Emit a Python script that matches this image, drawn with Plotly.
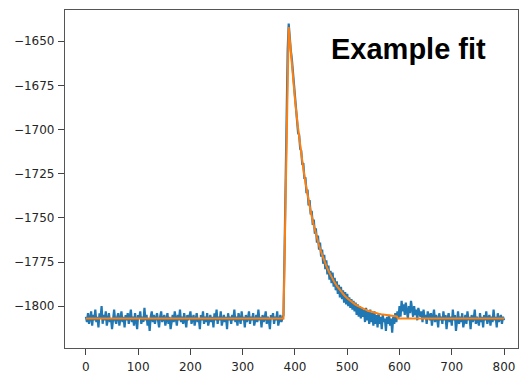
import numpy as np
import plotly.graph_objects as go

# ---- measured signal (sampled every 2 units, x = 0..800) ----
signal_y = [
    # baseline 0..376
    -1806,-1809,-1804,-1810,-1807,-1803,-1811,-1805,-1808,-1802,-1809,-1806,-1812,-1804,-1807,-1800,-1810,-1805,-1808,-1803,
    -1811,-1806,-1804,-1809,-1807,-1813,-1805,-1802,-1808,-1810,-1806,-1804,-1811,-1807,-1803,-1809,-1806,-1812,-1805,-1808,
    -1804,-1810,-1807,-1802,-1809,-1806,-1811,-1804,-1808,-1813,-1805,-1807,-1803,-1810,-1806,-1809,-1801,-1808,-1805,-1811,
    -1807,-1814,-1806,-1803,-1809,-1805,-1810,-1807,-1804,-1808,-1812,-1806,-1803,-1809,-1807,-1805,-1811,-1808,-1804,-1810,
    -1806,-1813,-1808,-1805,-1809,-1803,-1807,-1811,-1805,-1808,-1802,-1809,-1806,-1810,-1804,-1807,-1812,-1805,-1808,-1806,
    -1803,-1810,-1807,-1805,-1811,-1806,-1804,-1809,-1807,-1813,-1805,-1808,-1803,-1810,-1806,-1809,-1804,-1811,-1807,-1805,
    -1809,-1806,-1812,-1804,-1808,-1802,-1810,-1806,-1808,-1803,-1811,-1807,-1805,-1809,-1806,-1813,-1804,-1808,-1806,-1810,
    -1805,-1808,-1802,-1809,-1806,-1811,-1804,-1807,-1810,-1803,-1808,-1806,-1812,-1805,-1809,-1807,-1803,-1810,-1806,-1808,
    -1804,-1811,-1807,-1805,-1809,-1802,-1808,-1806,-1812,-1805,-1809,-1807,-1803,-1810,-1806,-1808,-1813,-1805,-1807,-1804,
    -1810,-1806,-1808,-1803,-1811,-1807,-1805,-1809,-1806,
    # rise and peak 378..398
    -1805,-1770,-1730,-1690,-1655,-1640,-1650,-1655,-1660,-1667,-1672,
    # decay 400..598
    -1681,-1690,-1692,-1702,-1703,-1711,-1712,-1720,-1719,-1728,-1727,-1736,-1734,-1743,-1740,-1748,-1746,-1754,-1751,-1759,
    -1756,-1764,-1760,-1768,-1764,-1772,-1768,-1776,-1771,-1779,-1774,-1782,-1777,-1785,-1780,-1787,-1781,-1789,-1784,-1791,
    -1786,-1793,-1788,-1795,-1789,-1796,-1791,-1798,-1792,-1799,-1793,-1800,-1795,-1801,-1796,-1802,-1797,-1803,-1798,-1805,
    -1799,-1806,-1800,-1807,-1801,-1806,-1802,-1809,-1801,-1808,-1803,-1810,-1802,-1809,-1804,-1811,-1803,-1810,-1805,-1812,
    -1804,-1810,-1806,-1813,-1805,-1809,-1807,-1814,-1806,-1810,-1805,-1811,-1807,-1815,-1806,-1810,-1804,-1809,-1803,-1807,
    # tail 600..800
    -1800,-1806,-1797,-1803,-1799,-1805,-1798,-1802,-1807,-1800,-1804,-1797,-1803,-1806,-1800,-1805,-1802,-1808,-1801,-1804,
    -1806,-1803,-1809,-1802,-1807,-1805,-1810,-1803,-1806,-1808,-1804,-1811,-1806,-1802,-1809,-1805,-1807,-1812,-1804,-1808,
    -1806,-1810,-1803,-1808,-1805,-1813,-1807,-1804,-1809,-1806,-1811,-1802,-1808,-1805,-1814,-1807,-1803,-1810,-1806,-1809,
    -1804,-1812,-1807,-1805,-1810,-1803,-1808,-1806,-1813,-1805,-1809,-1807,-1802,-1810,-1806,-1808,-1811,-1804,-1809,-1806,
    -1812,-1805,-1808,-1803,-1810,-1807,-1805,-1811,-1806,-1809,-1802,-1808,-1806,-1812,-1804,-1809,-1807,-1805,-1810,-1806,
    -1808,
]
signal_x = list(range(0, 801, 2))

# ---- fitted curve ----
fit_x = [0, 378, 388, 390, 395, 400, 405, 410, 415, 420, 425, 430, 435, 440, 445, 450, 455, 460, 465,
         470, 475, 480, 485, 490, 495, 500, 505, 510, 515, 520, 525, 530, 535, 540, 545, 550, 555,
         560, 565, 570, 575, 580, 585, 590, 595, 597, 800]
fit_y = [-1807, -1807, -1642, -1649.7, -1667.3, -1683.0, -1696.9, -1709.3, -1720.2, -1730.0, -1738.6,
         -1746.3, -1753.1, -1759.2, -1764.5, -1769.3, -1773.5, -1777.3, -1780.6, -1783.6, -1786.2,
         -1788.5, -1790.6, -1792.5, -1794.1, -1795.5, -1796.8, -1798.0, -1799.0, -1799.9, -1800.7,
         -1801.4, -1802.0, -1802.6, -1803.1, -1803.5, -1803.9, -1804.3, -1804.6, -1804.8, -1805.1,
         -1805.3, -1805.5, -1805.7, -1805.8, -1807, -1807]

x_ticks = [0, 100, 200, 300, 400, 500, 600, 700, 800]
y_ticks = [-1800, -1775, -1750, -1725, -1700, -1675, -1650]
title_text = "Example fit"

fig = go.Figure()
fig.add_trace(go.Scatter(x=signal_x, y=signal_y, mode="lines",
                         line=dict(color="#1f77b4", width=2.2), showlegend=False))
fig.add_trace(go.Scatter(x=fit_x, y=fit_y, mode="lines",
                         line=dict(color="#ff7f0e", width=2), showlegend=False))

axis_common = dict(showgrid=False, zeroline=False, ticks="outside", ticklen=6, tickwidth=1,
                   tickcolor="#444", showline=True, linecolor="#555", linewidth=1.2,
                   ticklabelstandoff=1,
                   tickfont=dict(family="DejaVu Sans", size=12, color="#262626"))
fig.update_xaxes(range=[-40, 826.7], tickvals=x_ticks, mirror=True, **axis_common)
fig.update_yaxes(range=[-1823.7, -1632.3], tickvals=y_ticks, mirror=True, **axis_common)

fig.add_annotation(x=0.758, y=0.885, xref="paper", yref="paper", text="<b>" + title_text + "</b>",
                   showarrow=False, xanchor="center", yanchor="middle",
                   font=dict(family="Liberation Sans", size=29, color="black"))

fig.update_layout(width=519, height=374, margin=dict(l=65, r=0, t=10, b=21),
                  paper_bgcolor="white", plot_bgcolor="white")
fig.write_html("out.html")
